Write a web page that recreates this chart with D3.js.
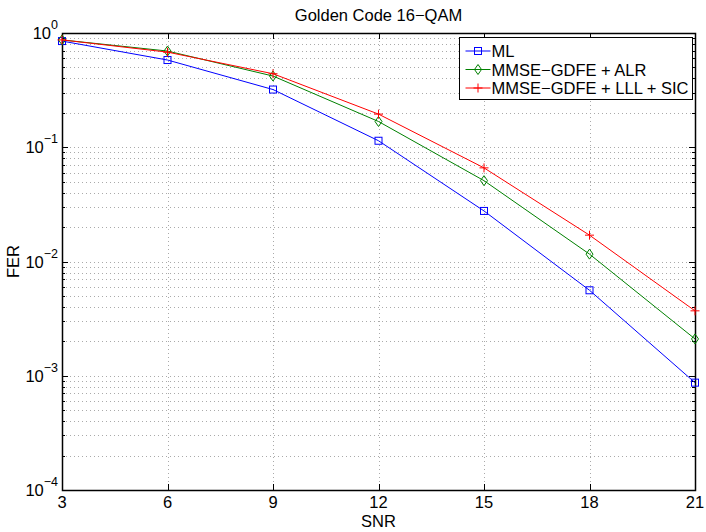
<!DOCTYPE html>
<html>
<head>
<meta charset="utf-8">
<style>
  body { margin: 0; background: #fff; }
  text { font-family: "Liberation Sans", Arial, sans-serif; fill: #000; }
</style>
</head>
<body>
<script src="https://cdn.jsdelivr.net/npm/d3@7"></script>
<script>

// data
var snr = [3, 6, 9, 12, 15, 18, 21];
var ml  = [0.85, 0.58, 0.32, 0.114, 0.0277, 0.0056, 0.00087];
var alr = [0.87, 0.695, 0.42, 0.168, 0.051, 0.0116, 0.0021];
var sic = [0.87, 0.68, 0.44, 0.195, 0.066, 0.017, 0.0037];
var names = ["ML", "MMSE\u2212GDFE + ALR", "MMSE\u2212GDFE + LLL + SIC"];
var colors = ["#0000ff", "#008000", "#ff0000"];
var xTicks = [3, 6, 9, 12, 15, 18, 21];
var yExp = [0, -1, -2, -3, -4];

var W = 706, H = 532;
var m = {t: 33, r: 11, b: 42, l: 62};
var w = W - m.l - m.r;
var h = H - m.t - m.b;

var x = d3.scaleLinear().domain([3, 21]).range([0, w]);
var y = d3.scaleLog().domain([1e-4, 1]).range([h, 0]);

var svg = d3.select("body").append("svg")
    .attr("width", W).attr("height", H);
var g = svg.append("g").attr("transform", "translate(" + m.l + "," + m.t + ")");

// grid lines
var minor = [];
for (var e = -4; e < 0; e++) {
  for (var k = 2; k <= 9; k++) minor.push(k * Math.pow(10, e));
}
var majorY = yExp.map(function(e) { return Math.pow(10, e); });

g.selectAll(".gy").data(minor.concat(majorY.slice(1, 4)))
  .enter().append("line")
    .attr("x1", 0).attr("x2", w)
    .attr("y1", function(d) { return Math.round(y(d)) + 0.5; })
    .attr("y2", function(d) { return Math.round(y(d)) + 0.5; })
    .attr("stroke", "#aaa").attr("stroke-width", 1)
    .attr("stroke-dasharray", "1,3");

g.selectAll(".gx").data(xTicks.slice(1, -1))
  .enter().append("line")
    .attr("y1", 0).attr("y2", h)
    .attr("x1", function(d) { return Math.round(x(d)) + 0.5; })
    .attr("x2", function(d) { return Math.round(x(d)) + 0.5; })
    .attr("stroke", "#aaa").attr("stroke-width", 1)
    .attr("stroke-dasharray", "1,3");

// ticks (inside, both sides)
g.selectAll(".tx").data(xTicks).enter().append("path")
  .attr("d", function(d) {
    var px = Math.round(x(d)) + 0.5;
    return "M" + px + "," + h + "v-6M" + px + ",0v6";
  })
  .attr("stroke", "#000");

g.selectAll(".tym").data(minor).enter().append("path")
  .attr("d", function(d) {
    var py = Math.round(y(d)) + 0.5;
    return "M0," + py + "h3M" + w + "," + py + "h-3";
  })
  .attr("stroke", "#000");

g.selectAll(".tyM").data(majorY).enter().append("path")
  .attr("d", function(d) {
    var py = Math.round(y(d)) + 0.5;
    return "M0," + py + "h6M" + w + "," + py + "h-6";
  })
  .attr("stroke", "#000");

// box
g.append("rect").attr("x", 0.5).attr("y", 0.5).attr("width", w).attr("height", h)
  .attr("fill", "none").attr("stroke", "#000").attr("stroke-width", 1.5);

// tick labels
g.selectAll(".lx").data(xTicks).enter().append("text")
  .attr("x", function(d) { return x(d); })
  .attr("y", h + 18)
  .attr("text-anchor", "middle")
  .style("font-size", "16.5px")
  .text(function(d) { return d; });

var yl = g.selectAll(".ly").data(yExp).enter().append("text")
  .attr("x", -4)
  .attr("y", function(d) { return y(Math.pow(10, d)) + 6; })
  .attr("text-anchor", "end")
  .style("font-size", "16.5px");
yl.append("tspan").text("10");
yl.append("tspan").attr("dy", -10).style("font-size", "12.5px")
  .text(function(d) { return d === 0 ? "0" : "\u2212" + (-d); });

// axis labels and title
svg.append("text").attr("x", m.l + w / 2).attr("y", 21)
  .attr("text-anchor", "middle").style("font-size", "16.5px")
  .text("Golden Code 16\u2212QAM");
svg.append("text").attr("x", m.l + w / 2).attr("y", 527)
  .attr("text-anchor", "middle").style("font-size", "16.5px")
  .text("SNR");
svg.append("text")
  .attr("transform", "translate(18.5," + (m.t + h / 2) + ") rotate(-90)")
  .attr("text-anchor", "middle").style("font-size", "16.5px")
  .text("FER");

// series
var series = [ml, alr, sic];
var line = d3.line()
  .x(function(d, i) { return x(snr[i]); })
  .y(function(d) { return y(d); });

function marker(sel, i, size) {
  if (i === 0) {
    sel.append("rect").attr("x", -size).attr("y", -size)
      .attr("width", 2 * size).attr("height", 2 * size)
      .attr("fill", "none").attr("stroke", colors[i]);
  } else if (i === 1) {
    sel.append("path")
      .attr("d", "M0," + (-size - 1.5) + "L" + size + ",0L0," + (size + 1.5) + "L" + (-size) + ",0Z")
      .attr("fill", "none").attr("stroke", colors[i]);
  } else {
    sel.append("path")
      .attr("d", "M" + (-size - 1) + ",0h" + (2 * size + 2) + "M0," + (-size - 1) + "v" + (2 * size + 2))
      .attr("fill", "none").attr("stroke", colors[i]);
  }
}

series.forEach(function(s, i) {
  g.append("path").datum(s).attr("d", line)
    .attr("fill", "none").attr("stroke", colors[i]).attr("stroke-width", 1);
  g.selectAll(".mk" + i).data(s).enter().append("g")
    .attr("transform", function(d, j) { return "translate(" + x(snr[j]) + "," + y(d) + ")"; })
    .each(function() { marker(d3.select(this), i, 3.5); });
});

// legend
var lg = svg.append("g").attr("transform", "translate(459.5,37.5)");
lg.append("rect").attr("width", 233).attr("height", 62)
  .attr("fill", "#fff").attr("stroke", "#000");
names.forEach(function(n, i) {
  var ry = 13.5 + i * 18.5;
  var row = lg.append("g").attr("transform", "translate(0," + ry + ")");
  row.append("line").attr("x1", 6).attr("x2", 31).attr("y1", 0).attr("y2", 0)
    .attr("stroke", colors[i]);
  var mk = row.append("g").attr("transform", "translate(18.5,0)");
  marker(mk, i, 3.5);
  row.append("text").attr("x", 32).attr("y", 6).style("font-size", "16.5px").text(n);
});

</script>
</body>
</html>
